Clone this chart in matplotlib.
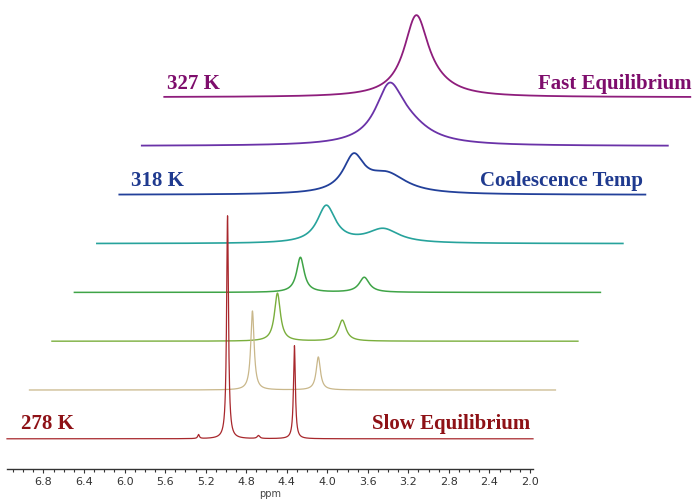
import numpy as np
import matplotlib
matplotlib.use("Agg")
from matplotlib import pyplot as plt
from matplotlib.ticker import MultipleLocator

# peaks of each spectrum, bottom (278 K) to top (327 K), in the spectrum's own ppm frame
peak_centres = [
    [4.984, 4.324, 5.270, 4.679],
    [4.960, 4.310],
    [4.935, 4.295],
    [4.930, 4.300],
    [4.896, 4.335],
    [4.848, 4.520],
    [4.718, 4.540],
    [4.674, 4.500],
]
peak_heights = [
    [223, 93, 4, 3],
    [79, 33],
    [48, 21],
    [35, 15],
    [37, 14],
    [35, 19],
    [52, 16],
    [78, 6],
]
peak_widths = [
    [0.022, 0.022, 0.02, 0.03],
    [0.04, 0.05],
    [0.07, 0.09],
    [0.09, 0.12],
    [0.22, 0.38],
    [0.25, 0.48],
    [0.33, 0.55],
    [0.29, 0.5],
]
ppm_start, ppm_end = 7.16, 1.97

labels_left = ["278 K", "318 K", "327 K"]
labels_right = ["Slow Equilibrium", "Coalescence Temp", "Fast Equilibrium"]
label_traces = [0, 5, 7]

colors = ["#A8272C", "#C9B78A", "#7AAE3C", "#3FA447", "#27A39C",
          "#22409A", "#6A32A8", "#8E1D7C"]
label_colors = ["#8E1116", "#1F3A8F", "#7E0D6C"]
line_widths = [0.9, 0.9, 1.0, 1.1, 1.2, 1.3, 1.3, 1.3]

x_shift = 0.2217    # ppm shift per trace
y_step = 48.8       # vertical step per trace
y_base = 30.5

fig = plt.figure(figsize=(6.94, 4.99), dpi=100)
ax = fig.add_axes([7 / 694, 29.7 / 499, 526 / 694, 469.3 / 499])

ppm = np.linspace(ppm_start, ppm_end, 8000)
for i, (cs, hs, ws) in enumerate(zip(peak_centres, peak_heights, peak_widths)):
    spec = np.zeros_like(ppm)
    for c, h, w in zip(cs, hs, ws):
        spec += h / (1 + ((ppm - c) / (w / 2)) ** 2)
    ax.plot(ppm - i * x_shift, spec + y_base + i * y_step, color=colors[i],
            lw=line_widths[i], clip_on=False, zorder=10 - i)

left_pos = [7.024, 5.940, 5.585]
right_pos = [2.0, 0.886, 0.403]
text_dy = [14.5, 13.5, 13.5]
for k, t in enumerate(label_traces):
    y = y_base + t * y_step + text_dy[k]
    ax.text(left_pos[k], y, labels_left[k], color=label_colors[k], fontsize=15,
            fontweight="bold", family="Liberation Serif", ha="left", va="center")
    ax.text(right_pos[k], y, labels_right[k], color=label_colors[k], fontsize=15,
            fontweight="bold", family="Liberation Serif", ha="right", va="center")

ax.set_xlim(ppm_start, ppm_end)
ax.set_ylim(0, 469.3)
for s in ["top", "left", "right"]:
    ax.spines[s].set_visible(False)
ax.spines["bottom"].set_color("#333333")
ax.spines["bottom"].set_linewidth(1.0)
ax.set_yticks([])
ax.xaxis.set_minor_locator(MultipleLocator(0.1))
ax.tick_params(axis="x", which="major", length=3, width=0.8, color="#333333",
               labelsize=8, labelcolor="#333333", pad=2.5)
ax.tick_params(axis="x", which="minor", length=2.5, width=0.8, color="#333333")
ticks = np.arange(6.8, 1.99, -0.4)
ax.set_xticks(ticks)
ax.set_xticklabels([f"{v:.1f}" for v in ticks])
ax.set_xlabel("ppm", fontsize=7, color="#444444", labelpad=1.5)
ax.patch.set_alpha(0)

fig.savefig("out.png", dpi=100)
